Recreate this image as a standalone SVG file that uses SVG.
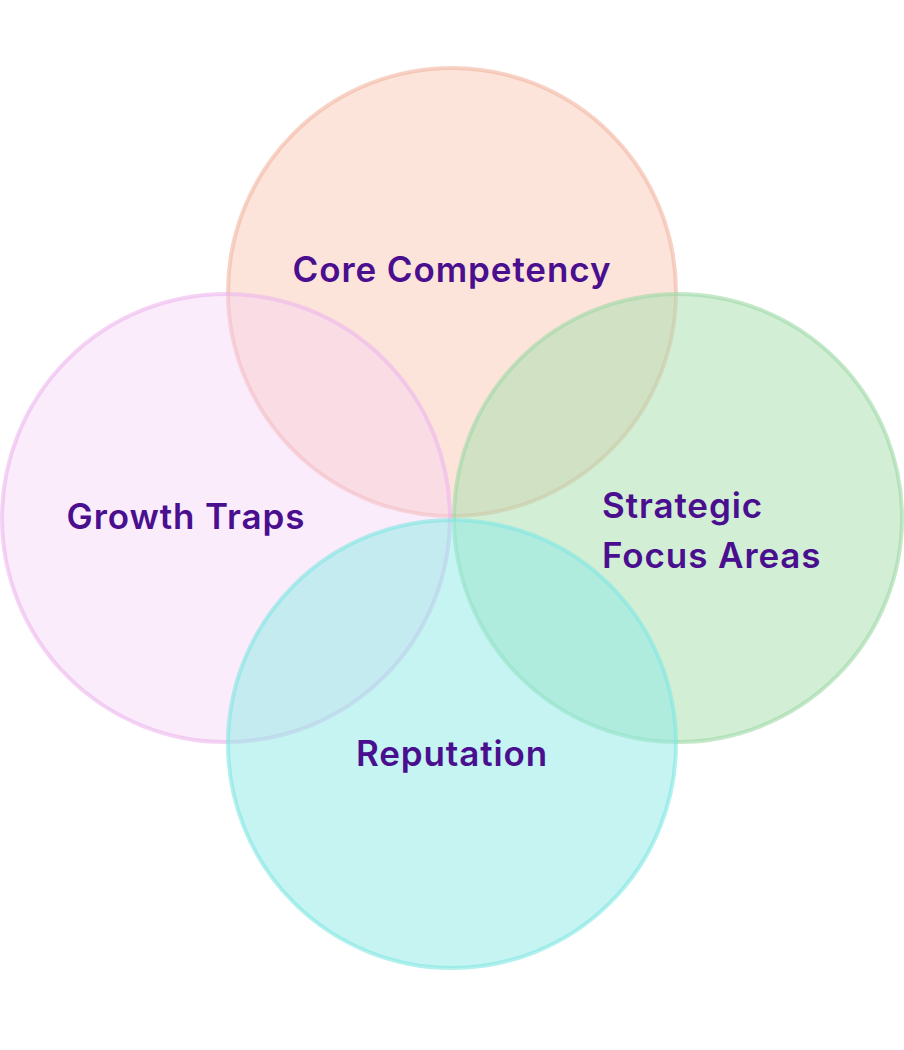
<svg xmlns="http://www.w3.org/2000/svg" width="904" height="1050" viewBox="0 0 904 1050">
<style>
circle{stroke-width:4}
text{font-family:Inter,"Noto Sans",sans-serif;font-weight:600;font-size:35px;letter-spacing:0.9px;fill:#4a0f8f}
</style>
<rect width="904" height="1050" fill="#fff"/>
<g id="core"><circle cx="452" cy="292" r="224" fill="#fcc9b6" fill-opacity="0.5" stroke="#f2b5a3" stroke-opacity="0.6"/><text x="452" y="282" text-anchor="middle">Core Competency</text></g>
<g id="growth"><circle cx="226" cy="518" r="224" fill="#f6d0f6" fill-opacity="0.4" stroke="#ecb6ec" stroke-opacity="0.6"/><text x="186" y="529" text-anchor="middle">Growth Traps</text></g>
<g id="strategic"><circle cx="678" cy="518" r="224" fill="#a6dfae" fill-opacity="0.5" stroke="#9ed8a6" stroke-opacity="0.6"/><text x="602" y="518">Strategic</text><text x="602" y="568">Focus Areas</text></g>
<g id="reputation"><circle cx="452" cy="744" r="224" fill="#8ceae6" fill-opacity="0.5" stroke="#80e6e2" stroke-opacity="0.6"/><text x="452" y="766" text-anchor="middle">Reputation</text></g>
<g id="connectors"/>
</svg>
